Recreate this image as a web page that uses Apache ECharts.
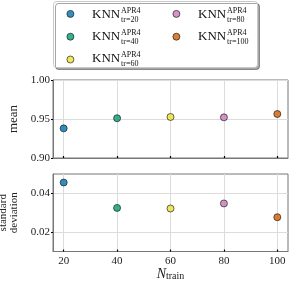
<!DOCTYPE html>
<html><head><meta charset="utf-8">
<script src="https://cdn.jsdelivr.net/npm/echarts@6/dist/echarts.min.js"></script>
<style>html,body{margin:0;padding:0;background:#fff}#c{width:292px;height:286px}</style>
</head><body><div id="c"></div>
<script>
const nTrain = [20, 40, 60, 80, 100];
const meanVals = [0.938, 0.951, 0.9526, 0.9521, 0.9564];
const stdVals = [0.0456, 0.0325, 0.0322, 0.0348, 0.0277];
const seriesNames = ['tr=20', 'tr=40', 'tr=60', 'tr=80', 'tr=100'];
const colors = ['#0173b2', '#029e73', '#ece133', '#cc78bc', '#d55e00'];
const xTicks = [20, 40, 60, 80, 100];
const meanTicks = [0.90, 0.95, 1.00];
const stdTicks = [0.02, 0.04];

const FONT = 'Liberation Serif';
const chart = echarts.init(document.getElementById('c'), null, {renderer: 'canvas'});

const series = [];
seriesNames.forEach((nm, i) => {
  const st = {color: colors[i], borderColor: '#111', borderWidth: 0.8};
  series.push({name: nm, type: 'scatter', xAxisIndex: 0, yAxisIndex: 0, symbolSize: 7,
    itemStyle: st, data: [[nTrain[i], meanVals[i]]], z: 5});
  series.push({name: nm, type: 'scatter', xAxisIndex: 1, yAxisIndex: 1, symbolSize: 7,
    itemStyle: st, data: [[nTrain[i], stdVals[i]]], z: 5});
});

const gridLine = {show: true, lineStyle: {color: '#dcdcdc', width: 1}};
function xAxis(idx, showLabels) {
  return {
    type: 'value', gridIndex: idx, min: 16, max: 104,
    axisLine: {show: true, onZero: false, lineStyle: {color: '#777', width: 1}},
    axisTick: {show: true, inside: true, length: 2, customValues: xTicks, lineStyle: {color: '#000', width: 1.2}},
    axisLabel: {show: showLabels, customValues: xTicks, fontFamily: FONT, fontSize: 11, color: '#222', margin: 4},
    splitLine: Object.assign({customValues: xTicks}, gridLine),
    name: showLabels ? '{n|N}{s|train}' : '', nameLocation: 'middle', nameGap: 14,
    nameTextStyle: {rich: {
      n: {fontFamily: FONT, fontStyle: 'italic', fontSize: 14, color: '#222', verticalAlign: 'bottom'},
      s: {fontFamily: FONT, fontSize: 10, color: '#222', padding: [6, 0, 0, 0], verticalAlign: 'bottom'}
    }}
  };
}
function yAxis(idx, mn, mx, ticks, name, nameGap, nameSize) {
  return {
    type: 'value', gridIndex: idx, min: mn, max: mx,
    axisLine: {show: true, onZero: false, lineStyle: {color: '#777', width: 1}},
    axisTick: {show: true, inside: false, length: 2, customValues: ticks, lineStyle: {color: '#000', width: 1.2}},
    axisLabel: {customValues: ticks, fontFamily: FONT, fontSize: 11, color: '#222', margin: 3,
      formatter: v => v.toFixed(2)},
    splitLine: Object.assign({customValues: ticks}, gridLine),
    name: name, nameLocation: 'middle', nameGap: nameGap, nameRotate: 90,
    nameTextStyle: {fontFamily: FONT, fontSize: nameSize, color: '#222', lineHeight: 11}
  };
}

const textGraphics = [];
const colX = [92, 198];
const rowY = [15, 37.5, 59.5];
seriesNames.forEach((nm, i) => {
  const col = i < 3 ? 0 : 1, row = i < 3 ? i : i - 3;
  const x = colX[col], y = rowY[row];
  textGraphics.push({type: 'text', left: x, top: y - 7, z: 10, style: {text: 'KNN', font: '13px "' + FONT + '"', fill: '#111'}});
  textGraphics.push({type: 'text', left: x + 29, top: y - 8.5, z: 10, style: {text: 'APR4', font: '8px "' + FONT + '"', fill: '#111'}});
  textGraphics.push({type: 'text', left: x + 29, top: y + 0.5, z: 10, style: {text: nm, font: '8px "' + FONT + '"', fill: '#111'}});
});

const legendCommon = {orient: 'vertical', top: 10, padding: 0, itemWidth: 7, itemHeight: 7,
  itemGap: 15, icon: 'circle', formatter: () => '', textStyle: {fontSize: 7, lineHeight: 7}, z: 8, selectedMode: false,
  itemStyle: {borderWidth: 0.8, borderColor: '#111'}};

chart.setOption({
  animation: false,
  backgroundColor: '#fff',
  grid: [
    {left: 53, top: 80, width: 235, height: 78, show: true, borderColor: '#777', borderWidth: 1, outerBoundsMode: 'none', containLabel: false},
    {left: 53, top: 174, width: 235, height: 77.5, show: true, borderColor: '#777', borderWidth: 1, outerBoundsMode: 'none', containLabel: false}
  ],
  xAxis: [xAxis(0, false), xAxis(1, true)],
  yAxis: [
    yAxis(0, 0.9, 1.0, meanTicks, 'mean', 30, 13),
    yAxis(1, 0.01, 0.05, stdTicks, 'standard\ndeviation', 25, 11)
  ],
  legend: [
    Object.assign({data: seriesNames.slice(0, 3), left: 66.5}, legendCommon),
    Object.assign({data: seriesNames.slice(3), left: 172.5}, legendCommon)
  ],
  graphic: [
    {type: 'rect', left: 53, top: 1, z: 1, shape: {width: 204, height: 66, r: 3},
      style: {fill: '#fff', stroke: '#c8c8c8', lineWidth: 1, shadowColor: 'rgba(0,0,0,0.35)', shadowOffsetX: 2, shadowOffsetY: 2, shadowBlur: 0}}
  ].concat(textGraphics),
  series: series
});
</script></body></html>
